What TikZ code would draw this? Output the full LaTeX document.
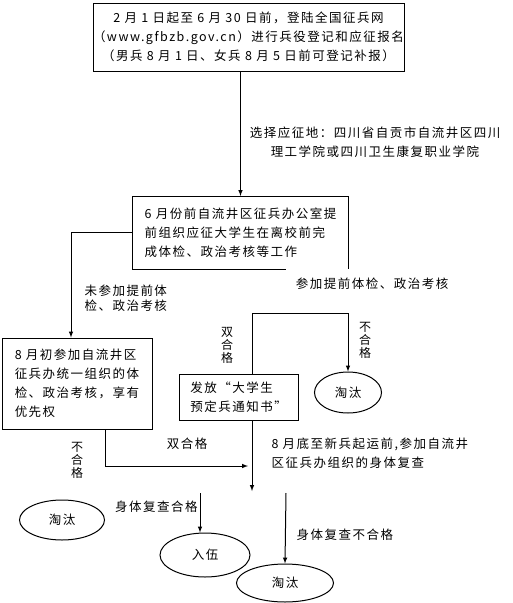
\documentclass[tikz,border=0pt]{standalone}
\usepackage{fontspec}
\setmainfont{Noto Sans CJK SC}[LetterSpace=12]
\usetikzlibrary{positioning,shapes.geometric,arrows,calc}

\begin{document}
\begin{tikzpicture}[x=1pt,y=-1pt,line width=1pt,>=latex,
		font=\fontsize{12.5}{19}\selectfont,
		box/.style={draw=black,inner sep=0pt,align=left},
		oval/.style={shape=ellipse,draw=black,inner sep=0pt},
		tag/.style={align=center,inner sep=0pt},
		upright/.style={align=center,inner sep=0pt,font=\fontsize{12}{13}\selectfont}]
		\useasboundingbox (0,0) rectangle (512,603);
		
		\node[box,align=center,minimum width=311,minimum height=68] (signup) at (248.5,37)
			{2 月 1 日起至 6 月 30 日前，登陆全国征兵网\\（www.gfbzb.gov.cn）进行兵役登记和应征报名\\（男兵 8 月 1 日、女兵 8 月 5 日前可登记补报）};
		\node[tag] (site) at (375,142) {选择应征地：四川省自贡市自流井区四川\\理工学院或四川卫生康复职业学院};
		
		% bottom border of this box is cut off on the right
		\node[tag,align=left,minimum width=215,minimum height=72] (pretest) at (240.5,232.5)
			{6 月份前自流井区征兵办公室提\\前组织应征大学生在离校前完\\成体检、政治考核等工作};
		\draw ([xshift=153pt]pretest.south west) -- (pretest.south west) -- (pretest.north west)
			-- (pretest.north east) -- (pretest.south east);
		\draw[->] (signup.south -| pretest.north) -- (pretest.north);
		
		\node[box,minimum width=150,minimum height=91] (august) at (77,383.5)
			{8 月初参加自流井区\\征兵办统一组织的体\\检、政治考核，享有\\优先权};
		\coordinate (leftturn) at (71,232.5);
		\draw[->] (pretest.west) -- (leftturn) -- (leftturn |- august.north);
		\node[tag,align=left,font=\fontsize{12.5}{15}\selectfont,anchor=west] (notpre) at (84,298) {未参加提前体\\检、政治考核};
		
		\node[tag] (pre) at (372,284) {参加提前体检、政治考核};
		
		\node[box,align=left,minimum width=119,minimum height=46] (notice) at (238.5,397) {发放“大学生\\预定兵通知书”};
		\node[oval,minimum width=67,minimum height=41] (outA) at (348,392.5) {淘汰};
		\coordinate (fork) at (252,313);
		\draw[->] (fork |- notice.north) -- (fork) -- (fork -| outA.north) -- (outA.north);
		\node[upright] (passA) at (227,345.5) {双\\合\\格};
		\node[upright] (failA) at (365,340) {不\\合\\格};
		
		% both arrows stop short of the re-check text
		\coordinate (fromnotice) at (252,491);
		\coordinate (fromaugust) at (248,466);
		\draw[->] (fork |- notice.south) -- (fromnotice);
		\draw[->] ([xshift=28pt]august.south) |- (fromaugust);
		\node[upright] (failB) at (77,460) {不\\合\\格};
		\node[tag] (passB) at (187,444) {双合格};
		\node[tag,align=left,anchor=west] (recheck) at (271,453) {8 月底至新兵起运前,参加自流井\\区征兵办组织的身体复查};
		
		\node[oval,minimum width=85,minimum height=40] (outC) at (62,520) {淘汰};
		\node[oval,minimum width=90,minimum height=44] (enlist) at (205,555) {入伍};
		\node[oval,minimum width=97,minimum height=38] (outB) at (285,583) {淘汰};
		
		\coordinate (passtop) at (200,493);
		\coordinate (failtop) at (286,493);
		\draw[->] (passtop) -- (passtop |- enlist.north);
		\draw[->] (failtop) -- (outB.north);
		\node[tag,anchor=east] (passC) at (198,507) {身体复查合格};
		\node[tag,anchor=west] (failC) at (296,535) {身体复查不合格};
	\end{tikzpicture}
\end{document}
